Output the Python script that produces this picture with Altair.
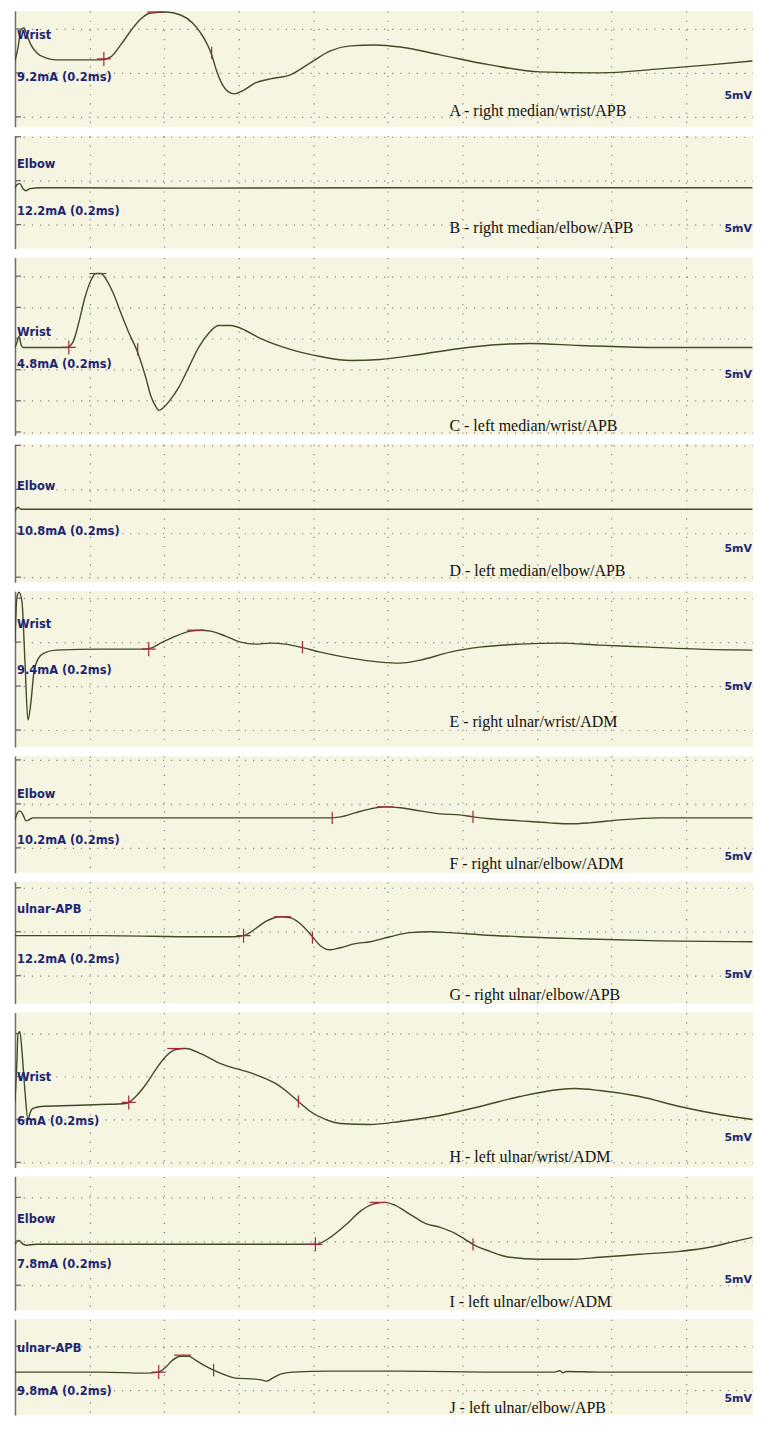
import altair as alt
import pandas as pd

# ---------------- data (time in ms, amplitude in mV; 5 mV per division) ----------------
CAPTIONS = ["A - right median/wrist/APB", "B - right median/elbow/APB",
            "C - left median/wrist/APB", "D - left median/elbow/APB",
            "E - right ulnar/wrist/ADM", "F - right ulnar/elbow/ADM",
            "G - right ulnar/elbow/APB", "H - left ulnar/wrist/ADM",
            "I - left ulnar/elbow/ADM", "J - left ulnar/elbow/APB"]
SITES = ["Wrist", "Elbow", "Wrist", "Elbow", "Wrist", "Elbow",
         "ulnar-APB", "Wrist", "Elbow", "ulnar-APB"]
STIMS = ["9.2mA (0.2ms)", "12.2mA (0.2ms)", "4.8mA (0.2ms)", "10.8mA (0.2ms)",
         "9.4mA (0.2ms)", "10.2mA (0.2ms)", "12.2mA (0.2ms)", "6mA (0.2ms)",
         "7.8mA (0.2ms)", "9.8mA (0.2ms)"]
GAIN = "5mV"

A_T = [0, 0.20, 0.40, 0.60, 0.80, 1.07, 1.47, 2.07, 2.74, 4.42, 5.76, 6.43, 7.09, 7.76, 8.43,
       9.10, 10.11, 11.11, 11.91, 12.45, 12.92, 13.19, 13.52, 13.92, 14.32, 14.72, 15.26,
       16.13, 17.13, 18.47, 19.81, 21.15, 22.49, 24.16, 25.83, 28.51, 31.86, 35.20, 39.22,
       43.24, 46.58, 49.46]
A_V = [1.36, 2.84, 4.89, 5.11, 4.32, 3.18, 2.27, 1.70, 1.48, 1.48, 1.48, 1.82, 3.18, 4.77, 6.14,
       6.82, 6.93, 6.59, 5.68, 4.55, 3.18, 2.05, 0.23, -1.36, -2.16, -2.39, -2.05,
       -1.14, -0.68, -0.23, 1.14, 2.50, 3.07, 3.18, 2.95, 2.05, 0.91, 0.11, 0.0,
       0.45, 0.91, 1.36]
A_MK_T = [5.96, 9.44, 13.19]
A_MK_V = [1.59, 6.93, 2.27]
A_MK_K = ["cross", "dash", "tick"]

B_T = [0, 0.13, 0.33, 0.54, 0.74, 1.00, 1.74, 12.45, 25.80, 49.46]
B_V = [-0.91, -0.45, -0.34, -0.91, -1.14, -0.91, -0.80, -0.85, -0.80, -0.80]
B_MK_T = []
B_MK_V = []
B_MK_K = []

C_T = [0, 0.13, 0.27, 0.40, 0.54, 1.74, 3.48, 3.88, 4.28, 4.69, 5.09, 5.42, 5.76, 6.16, 6.63,
       7.09, 7.63, 8.23, 8.77, 9.10, 9.44, 9.64, 9.97, 10.44, 10.98, 11.65, 12.32, 12.98,
       13.65, 14.46, 15.46, 16.46, 18.47, 20.48, 22.49, 24.50, 27.17, 29.85, 32.53, 34.54,
       37.88, 42.57, 49.46]
C_V = [-1.44, -0.64, 0.32, -0.96, -1.44, -1.44, -1.44, -0.64, 2.56, 6.57, 9.30, 10.42, 10.42,
       9.30, 7.05, 4.17, 0.96, -2.24, -6.25, -9.14, -10.90, -11.54, -11.06, -9.78, -7.85,
       -4.65, -1.44, 0.80, 2.08, 2.08, 1.28, 0.0, -1.76, -2.89, -3.53, -3.37, -2.56, -1.60,
       -0.96, -0.80, -1.12, -1.44, -1.44]
C_MK_T = [3.61, 5.56, 8.23]
C_MK_V = [-1.44, 10.42, -1.76]
C_MK_K = ["cross", "dash", "tick"]

D_T = [0, 0.20, 0.40, 10.0, 25.0, 40.0, 49.46]
D_V = [2.50, 2.95, 2.73, 2.73, 2.73, 2.73, 2.73]
D_MK_T = []
D_MK_V = []
D_MK_K = []

E_T = [0, 0.13, 0.27, 0.47, 0.67, 0.87, 1.07, 1.27, 1.54, 1.94, 2.74, 5.76, 8.43, 9.10, 9.77,
       10.78, 11.78, 12.45, 13.12, 14.12, 15.13, 16.13, 17.13, 18.14, 19.14, 20.48, 22.49,
       24.50, 25.83, 27.17, 29.18, 31.19, 33.87, 36.54, 39.22, 42.57, 45.91, 49.46]
E_V = [0, 5.11, 5.68, 4.55, -2.27, -8.86, -6.82, -3.41, -1.93, -1.25, -0.91, -0.80, -0.80,
       -0.68, -0.11, 0.68, 1.25, 1.36, 1.25, 0.68, 0, -0.23, -0.11, -0.23, -0.57, -1.14,
       -1.82, -2.27, -2.39, -2.05, -1.14, -0.57, -0.23, -0.11, -0.34, -0.57, -0.80, -0.91]
E_MK_T = [8.97, 12.11, 19.28]
E_MK_V = [-0.80, 1.36, -0.57]
E_MK_K = ["cross", "dash", "tick"]

F_T = [0, 0.13, 0.33, 0.54, 0.74, 0.94, 1.20, 5.76, 12.45, 19.14, 21.15, 21.82, 22.82, 23.83,
       24.83, 25.83, 27.17, 28.51, 29.85, 30.72, 31.86, 33.87, 35.87, 37.21, 38.55, 40.56,
       43.24, 45.91, 49.46]
F_V = [-1.82, -1.14, -0.80, -1.25, -1.93, -1.82, -1.59, -1.59, -1.59, -1.59, -1.59, -1.48,
       -1.02, -0.57, -0.34, -0.45, -0.80, -1.14, -1.25, -1.48, -1.70, -1.93, -2.16, -2.27,
       -2.16, -1.82, -1.59, -1.59, -1.59]
F_MK_T = [21.28, 24.83, 30.72]
F_MK_V = [-1.59, -0.34, -1.48]
F_MK_K = ["tick", "dash", "tick"]

G_T = [0, 5.76, 12.45, 14.79, 15.33, 16.13, 16.80, 17.80, 18.47, 19.14, 19.95, 20.48, 21.15,
       21.82, 22.82, 23.83, 25.16, 26.50, 27.84, 29.18, 31.19, 33.87, 37.88, 42.57, 49.46]
G_V = [-0.45, -0.45, -0.57, -0.57, -0.45, 0.34, 1.14, 1.70, 1.59, 0.91, -0.57, -1.59, -2.05,
       -1.82, -1.36, -1.14, -0.57, -0.11, 0, -0.11, -0.34, -0.57, -0.80, -1.02, -1.14]
G_MK_T = [15.33, 17.94, 19.95]
G_MK_V = [-0.45, 1.70, -0.68]
G_MK_K = ["cross", "dash", "tick"]

H_T = [0, 0.13, 0.20, 0.33, 0.47, 0.67, 0.87, 1.00, 1.20, 1.74, 3.75, 5.76, 7.43, 8.10, 8.77,
       9.44, 10.11, 10.78, 11.45, 12.45, 13.79, 16.13, 17.47, 18.47, 19.01, 19.81, 20.82,
       21.82, 23.83, 25.83, 28.51, 31.19, 33.87, 36.54, 37.55, 39.22, 41.90, 44.58, 47.25,
       49.46]
H_V = [-2.91, 1.74, 5.00, 5.23, 2.91, -1.74, -5.00, -4.30, -3.72, -3.49, -3.37, -3.26, -3.14,
       -2.33, -0.93, 0.81, 2.33, 3.14, 3.26, 2.67, 1.51, 0.23, -0.81, -2.09, -2.91, -4.07,
       -5.00, -5.47, -5.58, -5.23, -4.54, -3.49, -2.33, -1.51, -1.40, -1.63, -2.33, -3.49,
       -4.42, -5.00]
H_MK_T = [7.63, 10.78, 19.01]
H_MK_V = [-3.02, 3.26, -2.91]
H_MK_K = ["cross", "dash", "tick"]

I_T = [0, 0.13, 0.27, 0.47, 0.74, 1.41, 9.10, 20.15, 21.15, 22.15, 23.16, 23.96, 24.83, 25.50,
       26.50, 27.51, 28.51, 29.52, 30.18, 30.72, 31.86, 33.20, 35.20, 37.21, 39.22, 41.90,
       44.58, 46.58, 48.26, 49.46]
I_V = [-0.34, 0, 0.11, -0.23, -0.45, -0.34, -0.34, -0.34, 0.45, 1.82, 3.41, 4.20, 4.43, 4.09,
       3.07, 2.05, 1.59, 0.91, 0.23, -0.34, -1.14, -1.82, -2.05, -2.05, -1.82, -1.48, -1.14,
       -0.68, 0, 0.45]
I_MK_T = [20.15, 24.36, 30.72]
I_MK_V = [-0.34, 4.43, -0.34]
I_MK_K = ["cross", "dash", "tick"]

J_T = [0, 5.76, 8.77, 9.64, 10.11, 10.57, 11.11, 11.65, 12.11, 12.78, 13.32, 14.12, 14.79,
       16.13, 16.60, 16.87, 17.27, 17.80, 18.61, 21.15, 25.83, 32.53, 36.21, 36.54, 36.74,
       37.01, 39.22, 45.91, 49.46]
J_V = [2.05, 2.05, 1.93, 2.05, 2.61, 3.41, 3.86, 3.86, 3.41, 2.73, 2.27, 1.70, 1.36, 1.25,
       1.14, 1.02, 1.36, 1.82, 2.05, 2.16, 2.16, 2.05, 2.05, 2.20, 1.98, 2.12, 2.05, 2.05,
       2.05]
J_MK_T = [9.64, 11.24, 13.32]
J_MK_V = [2.05, 3.98, 2.27]
J_MK_K = ["cross", "dash", "tick"]

# ---------------- layout / style ----------------
W = 739
X_DOMAIN = [0, 49.5]
X_GRID = [5, 10, 15, 20, 25, 30, 35, 40, 45]
CREAM = "#f6f5e1"
TRACE = "#434b27"
MARKC = "#a3283b"
NAVY = "#1d2670"
GRIDC = "#858585"
AXISC = "#6c6c6c"

# (y-domain, height, label rows: site, stim, gain, caption)
LAYOUT = [
    ((-6.14, 7.05), 116, (25, 67, 85, 100)),
    ((-7.73, 5.11), 113, (29, 76, 93, 92)),
    ((-15.55, 12.98), 178, (75, 108, 118, 169)),
    ((-5.57, 10.11), 138, (43, 88, 105, 127)),
    ((-11.93, 5.80), 156, (34, 80, 96, 131)),
    ((-7.84, 5.45), 117, (39, 85, 101, 108)),
    ((-8.18, 5.68), 122, (28, 78, 93, 113)),
    ((-10.58, 7.44), 155, (65, 110, 126, 145)),
    ((-7.84, 7.39), 134, (44, 89, 104, 126)),
    ((-2.84, 8.07), 96, (30, 73, 80, 89)),
]

SERIES = [
    (A_T, A_V, A_MK_T, A_MK_V, A_MK_K),
    (B_T, B_V, B_MK_T, B_MK_V, B_MK_K),
    (C_T, C_V, C_MK_T, C_MK_V, C_MK_K),
    (D_T, D_V, D_MK_T, D_MK_V, D_MK_K),
    (E_T, E_V, E_MK_T, E_MK_V, E_MK_K),
    (F_T, F_V, F_MK_T, F_MK_V, F_MK_K),
    (G_T, G_V, G_MK_T, G_MK_V, G_MK_K),
    (H_T, H_V, H_MK_T, H_MK_V, H_MK_K),
    (I_T, I_V, I_MK_T, I_MK_V, I_MK_K),
    (J_T, J_V, J_MK_T, J_MK_V, J_MK_K),
]

MARK_STYLES = [("cross", "M-1,0L1,0M0,-1L0,1", 196),
               ("dash", "M-1,0L1,0", 289),
               ("tick", "M0,-1L0,1", 150)]


def text_layer(s, x, y, align, font, size, weight, color):
    return alt.Chart(pd.DataFrame({"s": [s]})).mark_text(
        align=align, baseline="middle", font=font, fontSize=size,
        fontWeight=weight, color=color
    ).encode(text="s:N", x=alt.value(x), y=alt.value(y))


def panel(i):
    t, v, mt, mv, mk = SERIES[i]
    dom, h, rows = LAYOUT[i]
    grid_vals = [g for g in range(-20, 25, 5) if dom[0] < g < dom[1]]
    X = alt.X("t:Q", scale=alt.Scale(domain=X_DOMAIN, nice=False, zero=False),
              axis=alt.Axis(values=X_GRID, grid=True, labels=False, ticks=False,
                            domain=False, title=None, gridColor=GRIDC,
                            gridDash=[1.2, 8], gridWidth=1.2, gridOpacity=1))
    Y = alt.Y("v:Q", scale=alt.Scale(domain=list(dom), nice=False, zero=False),
              axis=alt.Axis(values=grid_vals, grid=True, labels=False, ticks=False,
                            domain=True, domainColor=AXISC, domainWidth=1.5,
                            title=None, gridColor=GRIDC, gridDash=[1.2, 7],
                            gridWidth=1.2, gridOpacity=1))

    line = alt.Chart(pd.DataFrame({"t": t, "v": v})).mark_line(
        color=TRACE, strokeWidth=1.4, interpolate="monotone", clip=True
    ).encode(x=X, y=Y)
    ticks = alt.Chart(pd.DataFrame({"v": grid_vals})).mark_rule(
        color=AXISC, strokeWidth=1.3
    ).encode(y=Y, x=alt.value(0), x2=alt.value(6))

    layers = [line, ticks]
    mdf = pd.DataFrame({"t": mt, "v": mv, "k": mk})
    for kind, shape, size in MARK_STYLES:
        if kind not in mk:
            continue
        layers.append(
            alt.Chart(mdf).transform_filter(alt.datum.k == kind).mark_point(
                shape=shape, size=size, color=MARKC, strokeWidth=1.2,
                filled=False, opacity=1
            ).encode(x=X, y=Y)
        )
    layers.append(text_layer(SITES[i], 2, rows[0], "left", "DejaVu Sans", 11.5, "bold", NAVY))
    layers.append(text_layer(STIMS[i], 2, rows[1], "left", "DejaVu Sans", 11.5, "bold", NAVY))
    layers.append(text_layer(GAIN, W - 1, rows[2], "right", "DejaVu Sans", 11, "bold", NAVY))
    layers.append(text_layer(CAPTIONS[i], 435, rows[3], "left", "Liberation Serif", 16,
                             "normal", "#111111"))
    return alt.layer(*layers).properties(width=W, height=h)


chart = alt.vconcat(*[panel(i) for i in range(10)], spacing=9).properties(
    padding={"left": 6, "top": 0, "right": 0, "bottom": 0}
).configure(background="white").configure_view(fill=CREAM, strokeWidth=0)

chart.save("out.html", embed_options={"renderer": "svg", "actions": False})
